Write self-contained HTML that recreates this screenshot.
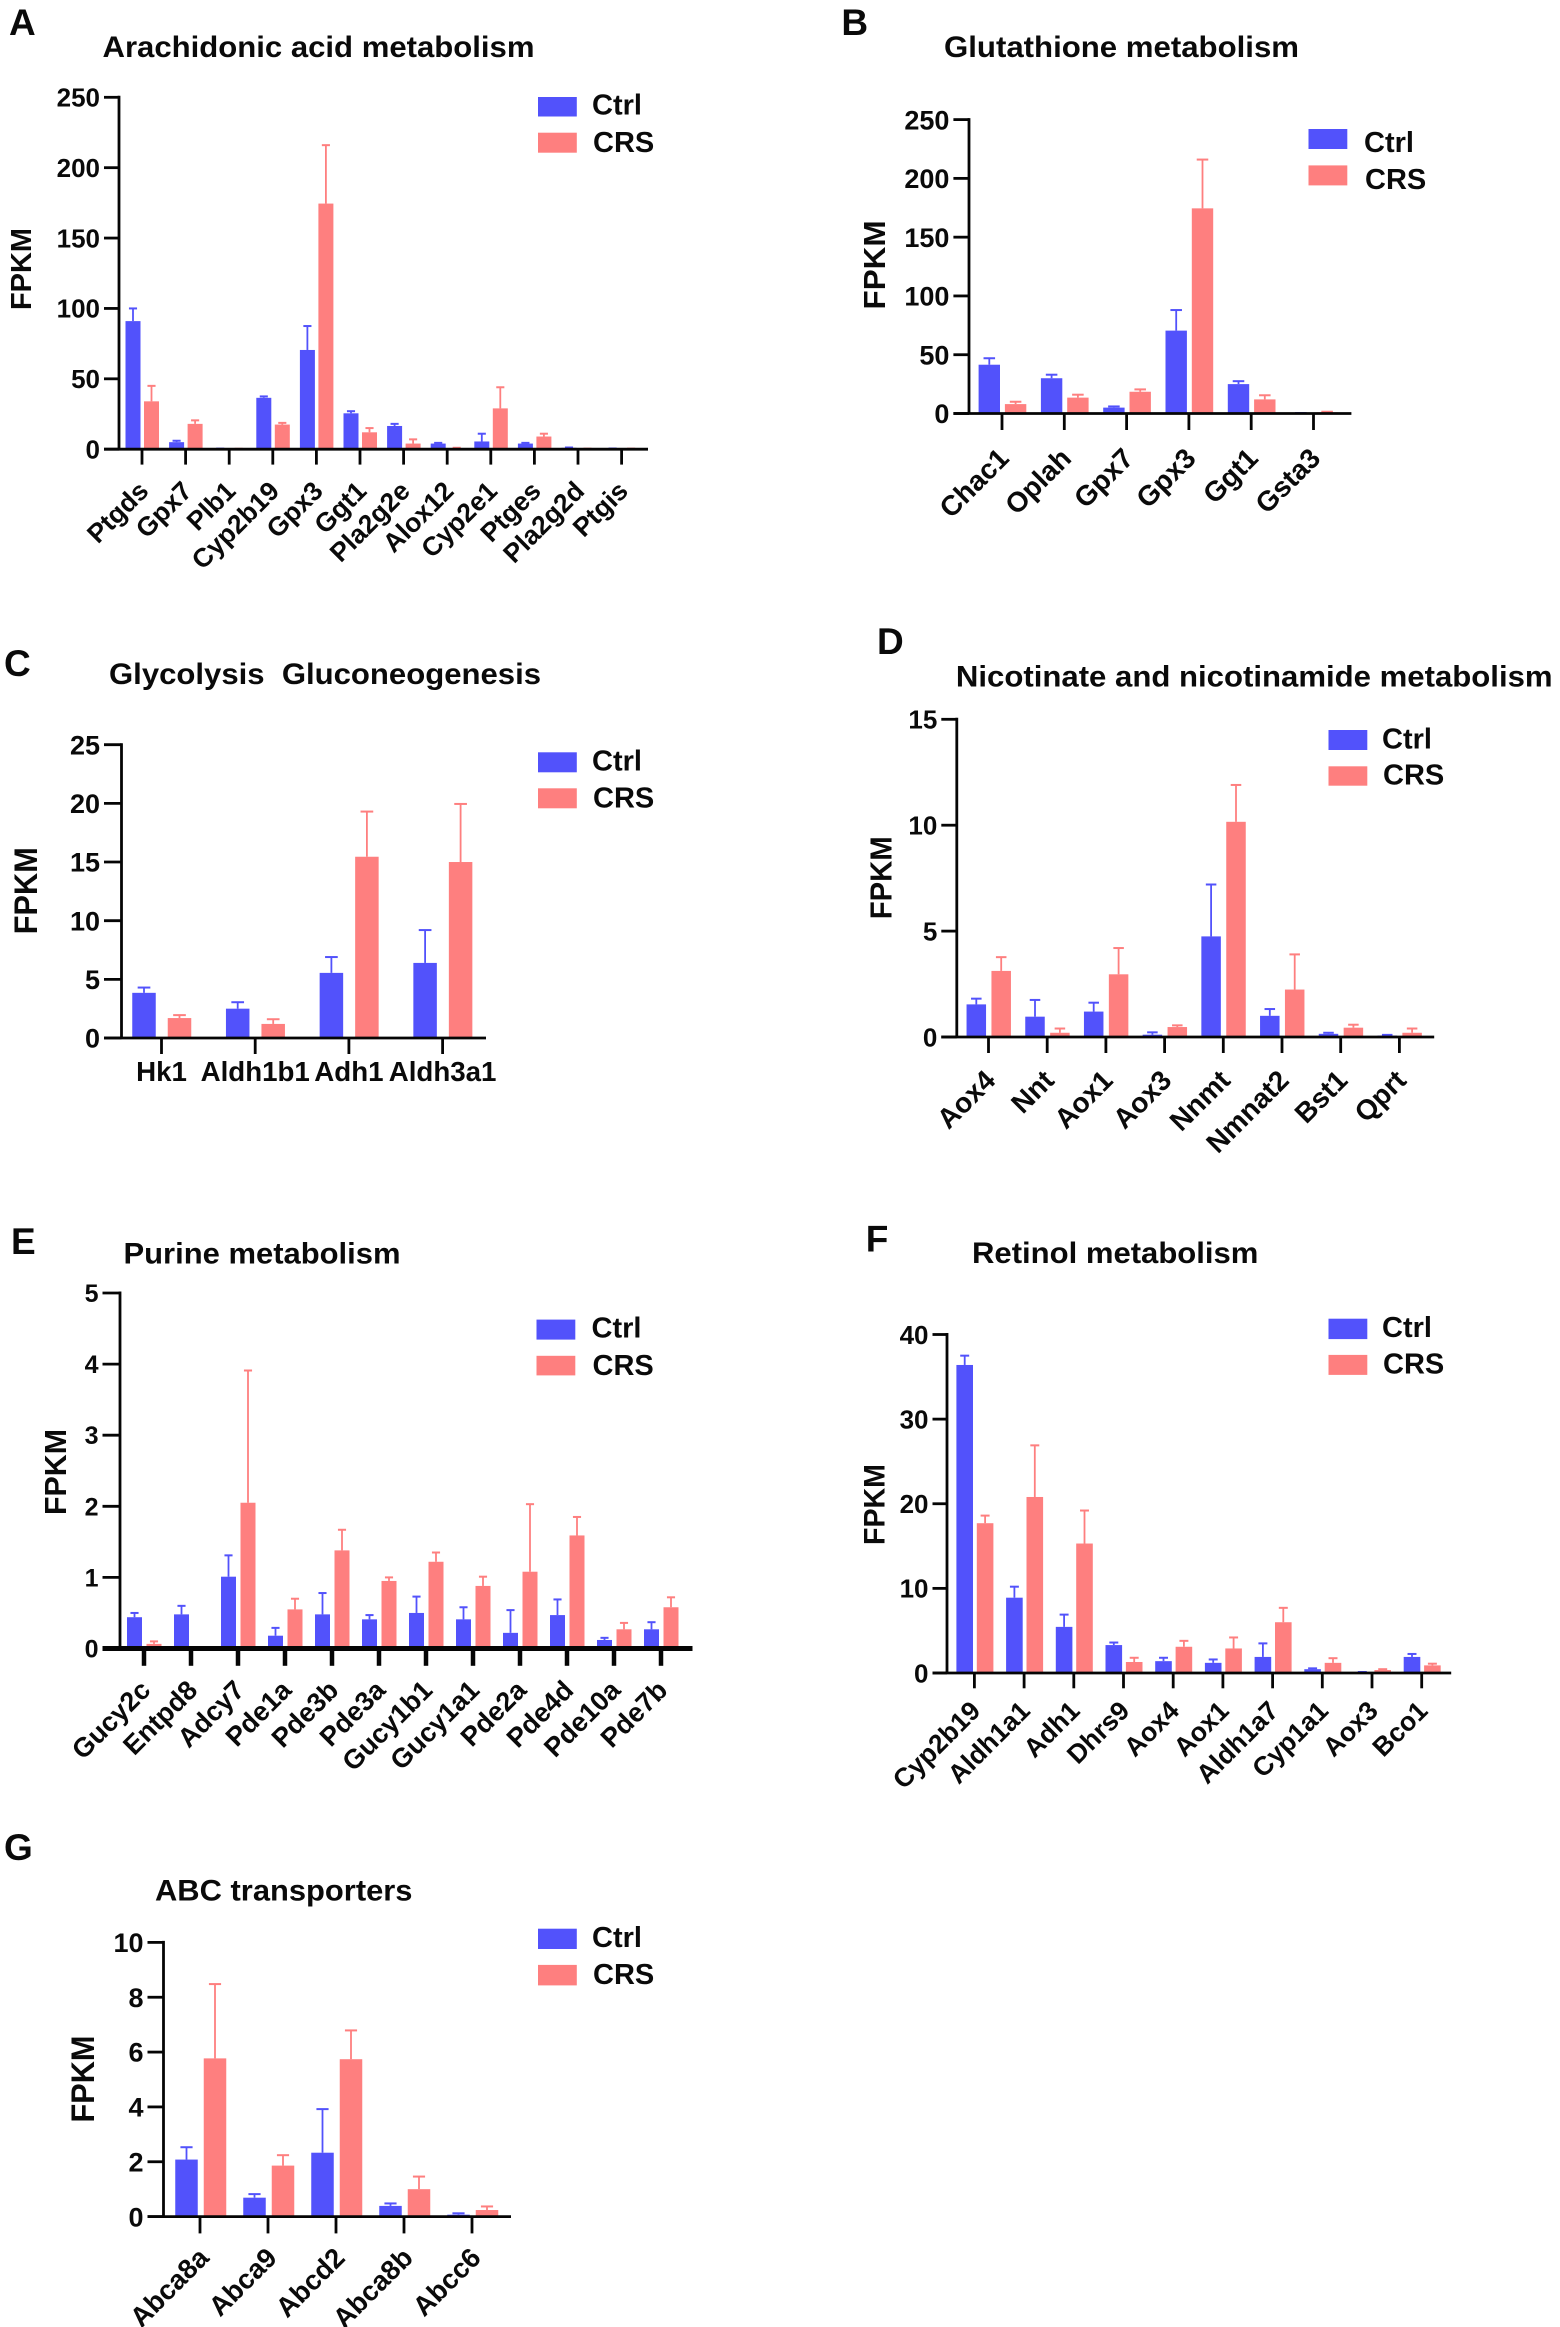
<!DOCTYPE html>
<html lang="en">
<head>
<meta charset="utf-8">
<title>FPKM bar charts by metabolic pathway</title>
<style>
html,body{margin:0;padding:0;background:#fff;overflow:hidden;}
svg{display:block;}
text{font-family:"Liberation Sans",Arial,sans-serif;font-weight:700;fill:#0a0a0a;white-space:pre;}
</style>
</head>
<body>
<svg id="figure" xmlns="http://www.w3.org/2000/svg" width="1560" height="2327" viewBox="0 0 1560 2327">
<rect x="0" y="0" width="1560" height="2327" fill="#fff"/>
</svg>
<script>
// ---------- Panel A ----------
const aCategories = ["Ptgds","Gpx7","Plb1","Cyp2b19","Gpx3","Ggt1","Pla2g2e","Alox12","Cyp2e1","Ptges","Pla2g2d","Ptgis"];
const aCtrl = [91,5,0.3,36.5,70.5,25.5,16.5,4,5.5,4,1,0.4];
const aCtrlUpper = [100,6,0.4,37.5,87.5,27,18,4.5,11,4.5,1.2,0.5];
const aCrs = [34,18,0.2,17.5,174.5,12,4,0.5,29,9,0.2,0.3];
const aCrsUpper = [45,20.5,0.3,18.7,216,15,7,1,44,11,0.4,0.4];
const aTicks = [0,50,100,150,200,250];
// ---------- Panel B ----------
const bCategories = ["Chac1","Oplah","Gpx7","Gpx3","Ggt1","Gsta3"];
const bCtrl = [41.5,30,5,70.5,25,0.3];
const bCtrlUpper = [47,33,6,88,27.5,0.4];
const bCrs = [8,13.5,18.5,174.5,12,1];
const bCrsUpper = [10,16,20.5,216,15.5,1.5];
const bTicks = [0,50,100,150,200,250];
// ---------- Panel C ----------
const cCategories = ["Hk1","Aldh1b1","Adh1","Aldh3a1"];
const cCtrl = [3.85,2.5,5.55,6.4];
const cCtrlUpper = [4.3,3.05,6.9,9.2];
const cCrs = [1.7,1.2,15.45,15];
const cCrsUpper = [1.95,1.6,19.3,19.95];
const cTicks = [0,5,10,15,20,25];
// ---------- Panel D ----------
const dCategories = ["Aox4","Nnt","Aox1","Aox3","Nnmt","Nmnat2","Bst1","Qprt"];
const dCtrl = [1.54,0.96,1.2,0.11,4.75,1.0,0.15,0.07];
const dCtrlUpper = [1.81,1.75,1.62,0.22,7.2,1.32,0.2,0.1];
const dCrs = [3.12,0.2,2.96,0.47,10.16,2.24,0.44,0.2];
const dCrsUpper = [3.77,0.4,4.2,0.55,11.9,3.9,0.58,0.4];
const dTicks = [0,5,10,15];
// ---------- Panel E ----------
const eCategories = ["Gucy2c","Entpd8","Adcy7","Pde1a","Pde3b","Pde3a","Gucy1b1","Gucy1a1","Pde2a","Pde4d","Pde10a","Pde7b"];
const eCtrl = [0.44,0.48,1.01,0.18,0.48,0.41,0.5,0.41,0.22,0.47,0.12,0.27];
const eCtrlUpper = [0.5,0.6,1.31,0.29,0.78,0.47,0.73,0.58,0.54,0.69,0.15,0.37];
const eCrs = [0.065,0.01,2.05,0.55,1.38,0.95,1.22,0.88,1.08,1.59,0.27,0.58];
const eCrsUpper = [0.1,0.02,3.91,0.7,1.67,1.0,1.35,1.01,2.03,1.85,0.36,0.72];
const eTicks = [0,1,2,3,4,5];
// ---------- Panel F ----------
const fCategories = ["Cyp2b19","Aldh1a1","Adh1","Dhrs9","Aox4","Aox1","Aldh1a7","Cyp1a1","Aox3","Bco1"];
const fCtrl = [36.4,8.9,5.45,3.3,1.4,1.2,1.9,0.45,0.1,1.9];
const fCtrlUpper = [37.5,10.2,6.9,3.6,1.8,1.6,3.5,0.55,0.12,2.25];
const fCrs = [17.7,20.8,15.3,1.3,3.1,2.9,6,1.2,0.35,0.9];
const fCrsUpper = [18.6,26.9,19.2,1.8,3.8,4.2,7.7,1.75,0.45,1.1];
const fTicks = [0,10,20,30,40];
// ---------- Panel G ----------
const gCategories = ["Abca8a","Abca9","Abcd2","Abca8b","Abcc6"];
const gCtrl = [2.08,0.69,2.33,0.39,0.07];
const gCtrlUpper = [2.53,0.82,3.92,0.48,0.12];
const gCrs = [5.77,1.86,5.74,1.0,0.24];
const gCrsUpper = [8.48,2.24,6.79,1.46,0.37];
const gTicks = [0,2,4,6,8,10];

const CTRL_COLOR = "#5252fb";
const CRS_COLOR = "#fe7f7f";

const NS = "http://www.w3.org/2000/svg";
const figure = document.getElementById("figure");

function mk(tag, attrs, parent, txt) {
  const n = document.createElementNS(NS, tag);
  for (const a in attrs) n.setAttribute(a, attrs[a]);
  if (txt !== undefined) n.textContent = txt;
  parent.appendChild(n);
  return n;
}
function place(x, y, rot) {
  return "translate(" + x + " " + y + ")" + (rot ? " rotate(" + rot + ")" : "");
}

function drawPanel(id, layout, categories, ctrl, ctrlUpper, crs, crsUpper, ticks) {
  const yMax = ticks[ticks.length - 1];
  const yScale = v => layout.y0 - (v / yMax) * (layout.y0 - layout.yTop);
  const xScale = i => layout.tick0 + i * layout.step;

  const g = mk("g", {}, figure);
  
  

  const letter = mk("text", {transform: place(layout.letter[0], layout.letter[1]), "font-size": 37}, g, id.toUpperCase());
  
  

  const title = mk("text", {transform: place(layout.title[0], layout.title[1]), "font-size": 30, textLength: layout.title[2], lengthAdjust: "spacingAndGlyphs"}, g, layout.titleText);
  
  

  const yTitle = mk("text", {transform: place(layout.fpkm[0], layout.fpkm[1], -90), "font-size": layout.fpkm[3], "text-anchor": "middle", textLength: layout.fpkm[2], lengthAdjust: "spacingAndGlyphs"}, g, "FPKM");
  
  

  // bars and error bars
  categories.forEach((cat, i) => {
    [[ctrl, ctrlUpper, layout.offL, CTRL_COLOR, "ctrl"], [crs, crsUpper, layout.offR, CRS_COLOR, "crs"]].forEach(s => {
      const cx = xScale(i) + s[2];
      const top = yScale(s[0][i]);
      const upper = yScale(s[1][i]);
      const capHalf = layout.barW * 0.27;
      const stem = mk("line", {x1: cx, x2: cx, y1: top, y2: upper, stroke: s[3], "stroke-width": 1.8}, g);
      
      
      const cap = mk("line", {x1: cx - capHalf, x2: cx + capHalf, y1: upper, y2: upper, stroke: s[3], "stroke-width": 2}, g);
      
      
      const bar = mk("rect", {x: cx - layout.barW / 2, y: top, width: layout.barW, height: Math.max(layout.y0 - top, 0), fill: s[3]}, g);
      
      
    });
  });

  // y axis
  const yAxis = mk("line", {x1: layout.axisX, x2: layout.axisX, y1: yScale(yMax) - 1.5, y2: layout.y0, stroke: "#050505", "stroke-width": 2.8}, g);
  
  
  ticks.forEach(t => {
    const y = yScale(t);
    const tick = mk("line", {x1: layout.axL, x2: layout.axisX, y1: y, y2: y, stroke: "#050505", "stroke-width": 2.8}, g);
    
    
    const lab = mk("text", {transform: place(layout.axL - 4, y + 0.358 * layout.tickFont), "font-size": layout.tickFont, "text-anchor": "end"}, g, String(t));
    
    
  });

  // x axis
  const xAxis = mk("line", {x1: layout.axL, x2: layout.axR, y1: layout.y0, y2: layout.y0, stroke: "#050505", "stroke-width": layout.axW}, g);
  
  
  categories.forEach((cat, i) => {
    const x = xScale(i);
    const tick = mk("line", {x1: x, x2: x, y1: layout.y0, y2: layout.tickEnd, stroke: "#050505", "stroke-width": layout.tickW}, g);
    
    
    const attrs = layout.flat
      ? {transform: place(x, layout.tickEnd + layout.labDy), "font-size": layout.labFont, "text-anchor": "middle"}
      : {transform: place(x + layout.labDx, layout.tickEnd + layout.labDy, -45), "font-size": layout.labFont, "text-anchor": "end"};
    const lab = mk("text", attrs, g, cat);
    
    
  });

  // legend
  const ctrlSwatch = mk("rect", {x: layout.lgX, y: layout.lgCtrl[0], width: 38.8, height: layout.lgCtrl[1] - layout.lgCtrl[0], fill: CTRL_COLOR}, g);
  
  
  const crsSwatch = mk("rect", {x: layout.lgX, y: layout.lgCrs[0], width: 38.8, height: layout.lgCrs[1] - layout.lgCrs[0], fill: CRS_COLOR}, g);
  
  
  const ctrlText = mk("text", {transform: place(layout.lgTx, layout.lgCtrl[2]), "font-size": 29}, g, "Ctrl");
  
  
  const crsText = mk("text", {transform: place(layout.lgTx + 1, layout.lgCrs[2]), "font-size": 29}, g, "CRS");
  
  
}

drawPanel("a", {titleText:"Arachidonic acid metabolism", letter:[9,35], title:[102.5,57,432], fpkm:[31,269,82,29],
  axisX:119, axL:104, axR:648, y0:449.2, yTop:97.3, tick0:142, step:43.6, barW:15, offL:-9, offR:9.5, tickEnd:464.6, axW:2.8, tickW:2.8,
  tickFont:26, labFont:26.5, labDx:8, labDy:28,
  lgX:538, lgTx:592, lgCtrl:[97,116.5,114.6], lgCrs:[132.7,152.7,152]}, aCategories, aCtrl, aCtrlUpper, aCrs, aCrsUpper, aTicks);

drawPanel("b", {titleText:"Glutathione metabolism", letter:[841.4,35], title:[944,57,355], fpkm:[885,265,89,31],
  axisX:969, axL:953.4, axR:1351.4, y0:413.5, yTop:119.6, tick0:1002, step:62.3, barW:21.4, offL:-12.7, offR:13.6, tickEnd:430, axW:2.8, tickW:2.8,
  tickFont:27, labFont:28, labDx:8.5, labDy:30,
  lgX:1308.5, lgTx:1364, lgCtrl:[129,149,152], lgCrs:[165.4,185.4,189]}, bCategories, bCtrl, bCtrlUpper, bCrs, bCrsUpper, bTicks);

drawPanel("c", {titleText:"Glycolysis  Gluconeogenesis", letter:[4,676], title:[109,684,432], fpkm:[37,890.7,87,32],
  axisX:121.5, axL:104, axR:486, y0:1038, yTop:744.7, tick0:161.5, step:93.7, barW:23.5, offL:-17.5, offR:18, tickEnd:1054, axW:2.8, tickW:2.8,
  tickFont:27, labFont:27.7, flat:true, labDy:27,
  lgX:538, lgTx:592, lgCtrl:[752.3,772.3,770.7], lgCrs:[788.3,808.3,807.3]}, cCategories, cCtrl, cCtrlUpper, cCrs, cCrsUpper, cTicks);

drawPanel("d", {titleText:"Nicotinate and nicotinamide metabolism", letter:[877,654], title:[955.9,686.7,596.7], fpkm:[891.6,877.8,83,31],
  axisX:956.8, axL:941.3, axR:1434.2, y0:1037, yTop:719.3, tick0:988.5, step:58.7, barW:19.5, offL:-12.2, offR:12.7, tickEnd:1053, axW:2.8, tickW:2.8,
  tickFont:26, labFont:28, labDx:8.5, labDy:29,
  lgX:1328.5, lgTx:1382, lgCtrl:[730,750,748.3], lgCrs:[766.3,785.7,784.7]}, dCategories, dCtrl, dCtrlUpper, dCrs, dCrsUpper, dTicks);

drawPanel("e", {titleText:"Purine metabolism", letter:[11,1254], title:[123.5,1263.5,277], fpkm:[66,1472,86,31],
  axisX:120, axL:102.5, axR:692.5, y0:1648.5, yTop:1293, tick0:144, step:47, barW:15, offL:-9.5, offR:10, tickEnd:1665.8, axW:5, tickW:4.5,
  tickFont:25, labFont:27, labDx:8, labDy:26,
  lgX:536.5, lgTx:591.5, lgCtrl:[1319.6,1339.6,1337.7], lgCrs:[1355.8,1375.4,1375]}, eCategories, eCtrl, eCtrlUpper, eCrs, eCrsUpper, eTicks);

drawPanel("f", {titleText:"Retinol metabolism", letter:[865.8,1251.4], title:[972,1263,286.4], fpkm:[884.3,1504.5,81,30],
  axisX:947, axL:932.5, axR:1451.2, y0:1673, yTop:1334.5, tick0:974.4, step:49.7, barW:16.6, offL:-9.7, offR:10.7, tickEnd:1688.3, axW:2.8, tickW:2.8,
  tickFont:26, labFont:26.5, labDx:7.5, labDy:24,
  lgX:1328.5, lgTx:1382, lgCtrl:[1318.7,1339.1,1337.2], lgCrs:[1354.9,1374.9,1373.7]}, fCategories, fCtrl, fCtrlUpper, fCrs, fCrsUpper, fTicks);

drawPanel("g", {titleText:"ABC transporters", letter:[4,1860], title:[155,1900.5,257.5], fpkm:[94,2079,87,32],
  axisX:163.5, axL:147.5, axR:511, y0:2216.6, yTop:1942.4, tick0:200, step:68, barW:22.5, offL:-13.5, offR:15, tickEnd:2233.4, axW:2.8, tickW:2.8,
  tickFont:27, labFont:27.5, labDx:10.5, labDy:26,
  lgX:538, lgTx:592, lgCtrl:[1928.7,1949,1947], lgCrs:[1964.9,1985.4,1984]}, gCategories, gCtrl, gCtrlUpper, gCrs, gCrsUpper, gTicks);
</script>
</body>
</html>
